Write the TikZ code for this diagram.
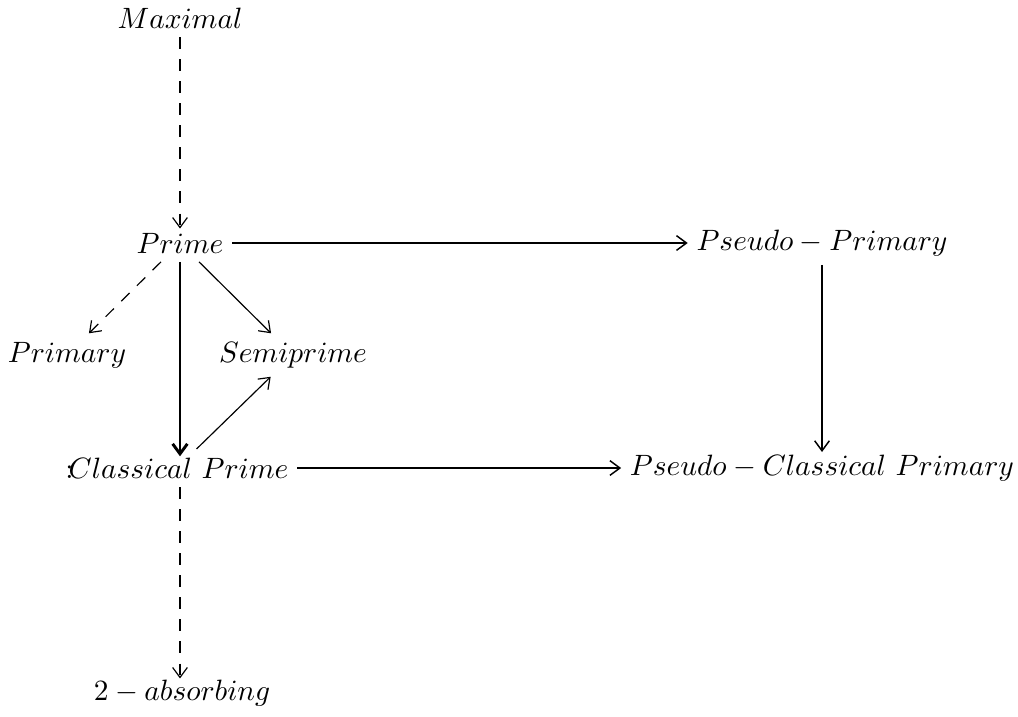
\documentclass[tikz,border=0pt]{standalone}
\usetikzlibrary{arrows.meta}
\begin{document}
\begin{tikzpicture}[x=0.34pt,y=-0.34pt,
  lbl/.style={inner sep=0pt, outer sep=3pt, anchor=center},
  tip/.style={-{Straight Barb[length=3.4pt,width=5pt]}},
  arr/.style={tip, line width=0.5pt},
  thinarr/.style={tip, line width=0.4pt},
  dasharr/.style={tip, line width=0.4pt, dash pattern=on 4pt off 3.5pt},
  thickarr/.style={tip, line width=1pt}]
\useasboundingbox (0,0) rectangle (1018,716);
\node[lbl] (max) at (180,18) {$Maximal$};
\node[lbl] (prime) at (180,243) {$Prime$};
\node[lbl] (pp) at (822,243) {$Pseudo-Primary$};
\node[lbl] (primary) at (67,355) {$Primary$};
\node[lbl] (semi) at (293,355) {$Semiprime$};
\node[lbl] (cp) at (177,468) {$\mathord{:}\mkern-3mu Classical\ Prime$};
\node[lbl] (pcp) at (822,468) {$Pseudo-Classical\ Primary$};
\node[lbl] (abs) at (182,693) {$2-absorbing$};
\draw[dasharr, shorten >=-1.5pt] (max) -- (prime);
\draw[arr] (prime) -- (pp);
\draw[dasharr] (prime) -- (primary);
\draw[thickarr, shorten >=-2.5pt] (prime) -- (prime |- cp.north);
\draw[thinarr] (prime) -- (semi);
\draw[thinarr] (cp) -- (semi);
\draw[arr] (cp) -- (pcp);
\draw[arr, shorten >=-2pt] (pp) -- (pcp);
\draw[dasharr, shorten >=-2.5pt] (cp.south -| prime) -- (abs.north -| prime);
\end{tikzpicture}
\end{document}
